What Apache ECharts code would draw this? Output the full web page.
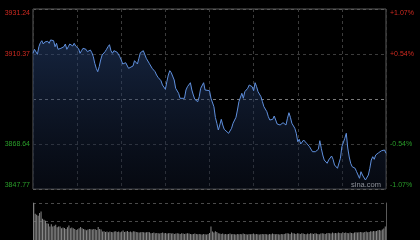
<!DOCTYPE html>
<html><head><meta charset="utf-8">
<script src="https://cdn.jsdelivr.net/npm/echarts@6/dist/echarts.min.js"></script>
<style>html,body{margin:0;padding:0;background:#000}#c{width:420px;height:240px}</style>
</head><body><div id="c"></div>
<script>
const prevClose = 3889.505;
const yTicks = [3847.77, 3868.64, 3889.51, 3910.37, 3931.24];
const minutes = [0,1,2,3,4,5,6,7,8,9,10,11,12,13,14,15,16,17,18,19,20,21,22,23,24,25,26,27,28,29,30,31,32,33,34,35,36,37,38,39,40,41,42,43,44,45,46,47,48,49,50,51,52,53,54,55,56,57,58,59,60,61,63,65,66,68,69,71,72,73,75,76,77,79,80,81,83,84,85,87,88,90,91,92,93,94,96,97,99,100,101,103,104,105,107,108,109,110,112,113,114,116,117,118,120,121,123,124,125,126,127,128,129,130,131,133,134,135,136,138,139,140,142,143,144,146,147,148,149,150,151,152,153,155,156,157,159,160,161,163,164,165,166,168,169,170,171,172,173,174,175,176,178,179,180,181,182,184,185,186,188,189,190,192,193,194,195,196,197,198,200,201,203,204,205,207,208,209,210,212,213,214,215,216,217,219,220,221,222,223,224,226,227,228,229,230,231,232,233,234,235,237,238,239,240];
const prices = [3910.70,3912.55,3911.90,3910.23,3913.76,3915.61,3916.54,3915.01,3915.94,3915.33,3916.26,3915.33,3916.90,3917.19,3916.54,3913.76,3915.33,3912.55,3913.02,3913.02,3912.55,3913.76,3915.01,3912.55,3913.76,3915.01,3914.55,3914.08,3915.33,3914.08,3913.48,3912.83,3910.70,3911.90,3913.02,3913.76,3912.55,3911.44,3911.44,3912.23,3910.98,3909.12,3906.06,3903.74,3902.16,3904.48,3907.59,3909.91,3910.70,3911.44,3912.55,3913.76,3914.69,3911.90,3910.70,3911.90,3910.98,3911.30,3910.37,3909.12,3907.59,3905.74,3906.34,3903.74,3902.95,3904.81,3907.27,3905.74,3908.38,3910.98,3911.90,3910.98,3908.38,3906.06,3905.27,3903.74,3902.16,3900.63,3899.57,3897.99,3896.00,3894.00,3897.53,3900.63,3902.63,3901.70,3898.32,3894.47,3892.15,3889.83,3890.57,3889.83,3893.68,3895.21,3897.06,3893.68,3891.36,3889.37,3888.25,3890.57,3894.47,3897.06,3893.68,3893.68,3893.35,3889.83,3885.93,3880.93,3878.24,3875.13,3877.45,3880.09,3877.45,3875.46,3874.81,3873.60,3872.81,3875.92,3878.24,3881.02,3884.40,3888.25,3892.15,3889.83,3892.89,3894.47,3896.00,3896.79,3895.21,3893.35,3897.06,3895.21,3892.89,3890.57,3888.25,3885.93,3883.62,3881.30,3879.77,3880.09,3881.62,3879.77,3877.91,3877.45,3877.45,3878.52,3877.91,3877.45,3880.56,3883.15,3881.02,3878.24,3875.92,3873.60,3869.70,3870.82,3868.64,3870.49,3870.82,3868.96,3867.39,3866.64,3865.07,3865.07,3865.86,3866.18,3870.17,3866.64,3863.54,3861.22,3859.69,3861.22,3863.07,3861.54,3858.90,3857.37,3858.11,3862.01,3867.39,3871.28,3873.60,3866.78,3862.61,3859.69,3858.11,3857.37,3855.79,3854.26,3852.73,3855.79,3854.26,3851.94,3851.16,3854.26,3857.37,3861.22,3862.75,3861.54,3863.54,3864.33,3864.60,3865.53,3866.18,3865.86,3864.33];
const volumes = [110,78,75,72,80,85,63,60,57,50,48,40,47,40,42,45,38,40,40,35,37,
36,33,38,43,35,37,35,33,30,32,35,39,35,33,31,29,31,33,32,31,
33,32,30,39,33,31,25,26,24,25,23,25,24,23,25,26,24,25,23,25,
28,24,25,27,24,25,23,26,25,24,23,22,23,24,23,22,23,24,23,20,
21,22,20,21,20,19,21,22,20,21,19,20,21,19,20,18,19,20,19,18,
20,19,18,19,20,19,18,17,18,19,18,17,18,17,16,18,17,16,18,21,
40,25,22,26,24,20,19,18,19,17,18,17,18,19,17,18,17,16,18,17,
18,17,19,18,17,16,18,17,18,19,17,18,17,16,17,18,17,18,17,16,
18,17,19,18,17,18,17,16,18,17,18,19,20,19,18,22,20,19,18,20,
19,18,20,19,18,17,19,18,20,19,18,20,19,18,17,19,20,19,18,20,
21,20,19,22,20,21,20,22,21,20,23,21,22,21,20,22,21,20,22,23,
22,23,24,23,22,24,25,23,24,26,25,27,26,27,29,30,28,31,34,40];

const RED = '#d02a20', GREEN = '#2a9e2a';
const yMin = yTicks[0], yMax = yTicks[yTicks.length - 1];
const yInt = (yMax - yMin) / (yTicks.length - 1);
const volMax = Math.max(...volumes);
const isMid = v => Math.abs(v - prevClose) < 1;
const pct = v => { const p = (v - prevClose) / prevClose * 100; return (p > 0 ? '+' : '') + p.toFixed(2) + '%'; };
// wrap label: top label pushed down, bottom label pushed up, colour by side of prev close
const wrap = (v, txt) => {
  if (isMid(v)) return '';
  const up = v > prevClose;
  let key = up ? 'r' : 'g';
  if (Math.abs(v - yMax) < 0.01) key += 't';
  else if (Math.abs(v - yMin) < 0.01) key += 'b';
  return '{' + key + '|' + txt + '}';
};
const F = 'Liberation Sans, Arial';
const rich = {
  r: {color: RED, fontSize: 7, fontFamily: F},
  g: {color: GREEN, fontSize: 7, fontFamily: F},
  rt: {color: RED, fontSize: 7, fontFamily: F, padding: [8, 0, 0, 0]},
  rb: {color: RED, fontSize: 7, fontFamily: F, padding: [0, 0, 8, 0]},
  gt: {color: GREEN, fontSize: 7, fontFamily: F, padding: [8, 0, 0, 0]},
  gb: {color: GREEN, fontSize: 7, fontFamily: F, padding: [0, 0, 8, 0]}
};

const chart = echarts.init(document.getElementById('c'), null, {renderer: 'canvas'});
chart.setOption({
  backgroundColor: '#000',
  animation: false,
  grid: [
    {left: 33, right: 34, top: 9, height: 180, show: true, borderColor: '#5a5a5a', borderWidth: 1},
    {left: 33, right: 34, top: 203, height: 37, show: false}
  ],
  xAxis: [
    {type: 'value', gridIndex: 0, min: 0, max: 240, interval: 30,
     axisLine: {show: false}, axisTick: {show: false}, axisLabel: {show: false},
     splitLine: {show: true, lineStyle: {color: '#3c3c3c', type: [3, 3], width: 1}}},
    {type: 'value', gridIndex: 1, min: -0.5, max: 240.5,
     axisLine: {show: false}, axisTick: {show: false}, axisLabel: {show: false}, splitLine: {show: false}}
  ],
  yAxis: [
    {type: 'value', gridIndex: 0, min: yMin, max: yMax, interval: yInt, position: 'left',
     axisLine: {show: false}, axisTick: {show: false},
     axisLabel: {fontSize: 7, fontFamily: F, margin: 3, rich: rich,
       formatter: v => wrap(v, v.toFixed(2))},
     splitLine: {show: true, lineStyle: {color: ['#5a5a5a', '#3c3c3c', '#7a7a7a', '#3c3c3c', '#5a5a5a'], type: [3, 3], width: 1}}},
    {type: 'value', gridIndex: 0, min: yMin, max: yMax, interval: yInt, position: 'right',
     axisLine: {show: false}, axisTick: {show: false}, splitLine: {show: false},
     axisLabel: {fontSize: 7, fontFamily: F, margin: 4, rich: rich,
       formatter: v => wrap(v, pct(v))}},
    {type: 'value', gridIndex: 1, min: 0, max: volMax, interval: volMax / 2, position: 'left',
     axisLine: {show: true, lineStyle: {color: '#5a5a5a'}}, axisTick: {show: false}, axisLabel: {show: false},
     splitLine: {show: true, lineStyle: {color: '#4a4a4a', type: [3, 3], width: 1}}},
    {type: 'value', gridIndex: 1, min: 0, max: volMax, position: 'right',
     axisLine: {show: true, lineStyle: {color: '#5a5a5a'}}, axisTick: {show: false}, axisLabel: {show: false},
     splitLine: {show: false}}
  ],
  series: [
    {type: 'line', xAxisIndex: 0, yAxisIndex: 0, showSymbol: false, smooth: false,
     data: minutes.map((m, i) => [m, prices[i]]),
     lineStyle: {color: '#5f8fdc', width: 1},
     areaStyle: {origin: 'start', color: new echarts.graphic.LinearGradient(0, 0, 0, 1, [
       {offset: 0, color: 'rgba(40,68,118,0.75)'}, {offset: 1, color: 'rgba(16,24,44,0.55)'}])}},
    {type: 'bar', xAxisIndex: 1, yAxisIndex: 2, barWidth: 1,
     data: volumes.map((v, i) => [i, v]),
     itemStyle: {color: '#8a8a8a'}}
  ],
  graphic: [
    {type: 'text', left: 351, top: 181, style: {text: 'sina.com', fill: '#d8d8d8', font: '7.5px Liberation Sans, Arial'}}
  ]
});
</script></body></html>
